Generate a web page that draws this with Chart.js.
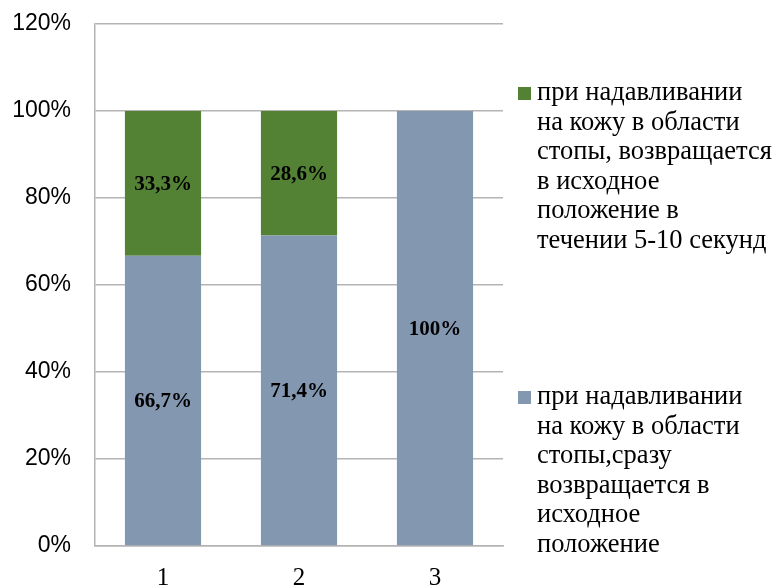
<!DOCTYPE html>
<html>
<head>
<meta charset="utf-8">
<script src="https://cdn.jsdelivr.net/npm/chart.js@4.4.1/dist/chart.umd.min.js"></script>
<style>
  html, body { margin: 0; padding: 0; background: #fff; }
  #wrap { width: 778px; height: 588px; }
</style>
</head>
<body>
<div id="wrap"><canvas id="chart" width="778" height="588"></canvas></div>
<script>
// categories and series (percent of group)
const categories = ['1', '2', '3'];
const immediateReturn = [66.7, 71.4, 100];   // сразу возвращается
const delayedReturn = [33.3, 28.6, 0];       // возвращается в течении 5-10 секунд
const yTicks = [0, 20, 40, 60, 80, 100, 120];

// legend text, already split into lines as in the picture
const legendDelayed = ['при надавливании', 'на кожу в области', 'стопы, возвращается', 'в исходное', 'положение в', 'течении 5-10 секунд'];
const legendImmediate = ['при надавливании', 'на кожу в области', 'стопы,сразу', 'возвращается в', 'исходное', 'положение'];

const BLUE = '#8497b0';
const GREEN = '#548235';
const GRID = '#b4b4b4';

function fmt(v) {
    if (v === 100) return '100%';
    return v.toFixed(1).replace('.', ',') + '%';
}

// value labels in the middle of every segment
const segmentLabels = {
    id: 'segmentLabels',
    afterDatasetsDraw(chart) {
        const ctx = chart.ctx;
        ctx.save();
        ctx.font = 'bold 21px "Liberation Serif", "Times New Roman", serif';
        ctx.fillStyle = '#000';
        ctx.textAlign = 'center';
        ctx.textBaseline = 'middle';
        chart.data.datasets.forEach((ds, i) => {
            const meta = chart.getDatasetMeta(i);
            meta.data.forEach((bar, j) => {
                const v = ds.data[j];
                if (!v) return;
                ctx.fillText(fmt(v), bar.x, (bar.y + bar.base) / 2 + 1);
            });
        });
        ctx.restore();
    }
};

// legend on the right, multi-line entries
const sideLegend = {
    id: 'sideLegend',
    afterDraw(chart, args, opts) {
        const ctx = chart.ctx;
        ctx.save();
        ctx.font = '26.5px "Liberation Serif", "Times New Roman", serif';
        ctx.textAlign = 'left';
        ctx.textBaseline = 'middle';
        opts.items.forEach(item => {
            ctx.fillStyle = item.color;
            ctx.fillRect(opts.boxX, item.y - 6, 13, 13);
            ctx.fillStyle = '#000';
            item.lines.forEach((line, k) => {
                ctx.fillText(line, opts.textX, item.y + k * opts.lineHeight);
            });
        });
        ctx.restore();
    }
};

new Chart(document.getElementById('chart'), {
    type: 'bar',
    data: {
        labels: categories,
        datasets: [
            {
                label: legendImmediate.join(' '),
                data: immediateReturn,
                backgroundColor: BLUE,
                barPercentage: 0.56,
                categoryPercentage: 1.0
            },
            {
                label: legendDelayed.join(' '),
                data: delayedReturn,
                backgroundColor: GREEN,
                barPercentage: 0.56,
                categoryPercentage: 1.0
            }
        ]
    },
    options: {
        responsive: false,
        animation: false,
        layout: { padding: { left: 0, right: 275, top: 24, bottom: 0 } },
        plugins: {
            legend: { display: false },
            tooltip: { enabled: false },
            sideLegend: {
                boxX: 518,
                textX: 537,
                lineHeight: 29.6,
                items: [
                    { color: GREEN, y: 93, lines: legendDelayed },
                    { color: BLUE, y: 397, lines: legendImmediate }
                ]
            }
        },
        scales: {
            x: {
                stacked: true,
                grid: { display: false },
                border: { display: true, color: GRID, width: 1.5 },
                ticks: {
                    color: '#000',
                    font: { family: '"Liberation Serif", "Times New Roman", serif', size: 25 },
                    padding: 9
                },
                afterFit(scale) { scale.height = 42; }
            },
            y: {
                stacked: true,
                min: 0,
                max: 120,
                afterBuildTicks(scale) { scale.ticks = yTicks.map(v => ({ value: v })); },
                grid: { color: GRID, lineWidth: 1.5, drawTicks: false },
                border: { display: true, color: GRID, width: 1.5 },
                ticks: {
                    color: '#000',
                    font: { family: '"Liberation Sans", Arial, sans-serif', size: 23 },
                    padding: 24,
                    callback: v => v + '%'
                },
                afterFit(scale) {
                    scale.width = 95;
                    scale.paddingTop = 0;
                    scale.paddingBottom = 0;
                }
            }
        }
    },
    plugins: [segmentLabels, sideLegend]
});
</script>
</body>
</html>
